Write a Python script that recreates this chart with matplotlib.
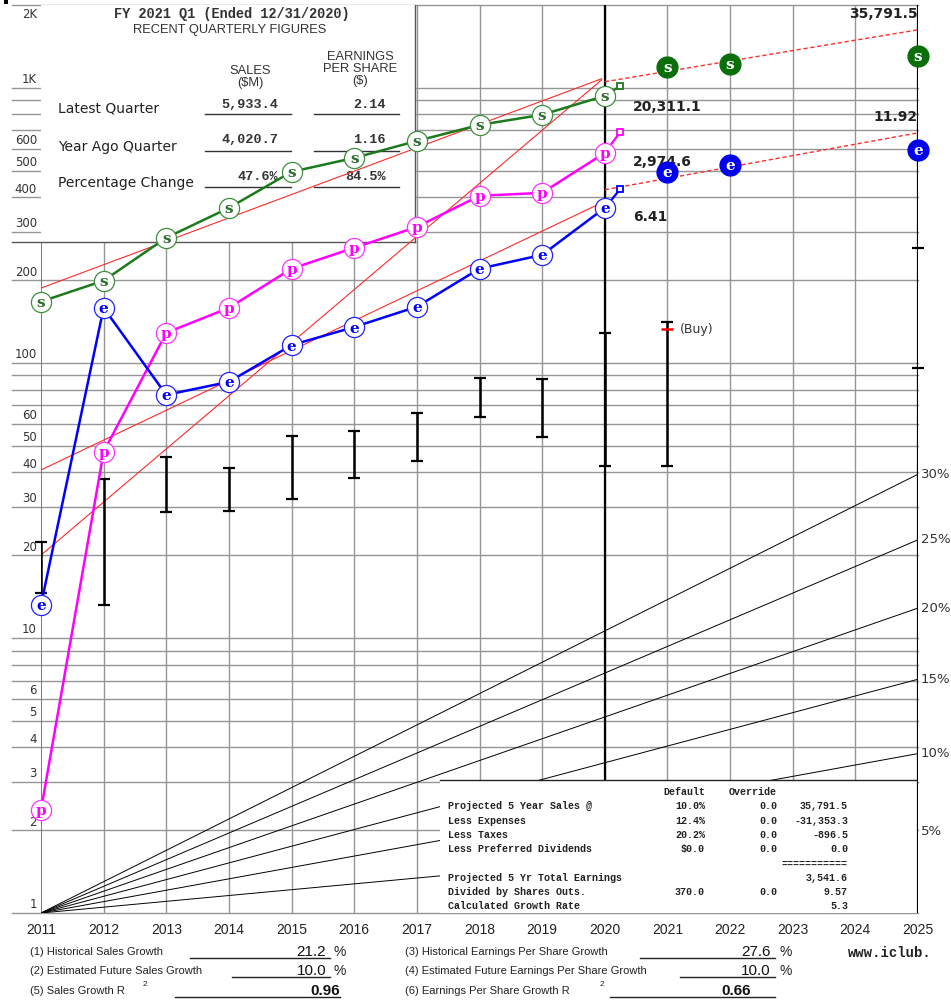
import numpy as np
import matplotlib
matplotlib.use('Agg')
import matplotlib.pyplot as plt
from matplotlib import font_manager
from matplotlib.patches import Rectangle
from matplotlib.transforms import Affine2D

# ---- data ----
years_hist = [2011, 2012, 2013, 2014, 2015, 2016, 2017, 2018, 2019, 2020]
sales_hist = [167, 199, 285, 366, 495, 556, 641, 733, 798, 935]
pretax_hist = [2.37, 47.5, 128.6, 158.5, 220, 262, 312, 405, 415, 580]
eps_hist = [13.2, 158.5, 76.5, 85.3, 116, 135, 160, 220, 247, 366]

latest_year = 2020.25
sales_latest = 1016
pretax_latest = 692
eps_latest = 429

proj_years = [2021, 2022, 2025]
sales_proj = [1192, 1222, 1307]
eps_proj = [495, 525, 596]

price_years = [2011, 2012, 2013, 2014, 2015, 2016, 2017, 2018, 2019, 2020, 2021]
price_high = [22.3, 37.9, 45.5, 41.5, 54.3, 56.6, 65.8, 88.2, 87.5, 128.6, 141]
price_low = [14.6, 13.2, 28.7, 29.0, 32.0, 38.2, 44.0, 63.6, 53.8, 42.2, 42.2]
price_buy = 133
proj_price_high = 262
proj_price_low = 95.9

trend_years = [2011, 2019.95]
sales_trend = [187, 1079]
pretax_trend = [20.0, 1069]
eps_trend = [40.8, 382]
proj_trend_years = [2020, 2025]
sales_proj_trend = [1052, 1625]
eps_proj_trend = [426, 686]

growth_rates = [5, 10, 15, 20, 25, 30]

ytick_vals = [1000, 600, 500, 400, 300, 200, 100, 60, 50, 40, 30, 20, 10, 6, 5, 4, 3, 2, 1]
ytick_labels = ['1K', '600', '500', '400', '300', '200', '100', '60', '50', '40',
                '30', '20', '10', '6', '5', '4', '3', '2', '1']
xtick_years = list(range(2011, 2026))

quarter_rows = ['Latest Quarter', 'Year Ago Quarter', 'Percentage Change']
quarter_sales = ['5,933.4', '4,020.7', '47.6%']
quarter_eps = ['2.14', '1.16', '84.5%']

proj_labels = ['Projected 5 Year Sales @', 'Less Expenses', 'Less Taxes',
               'Less Preferred Dividends', '', 'Projected 5 Yr Total Earnings',
               'Divided by Shares Outs.', 'Calculated Growth Rate']
proj_default = ['10.0%', '12.4%', '20.2%', '$0.0', '', '', '370.0', '']
proj_override = ['0.0', '0.0', '0.0', '0.0', '', '', '0.0', '']
proj_values = ['35,791.5', '-31,353.3', '-896.5', '0.0', '===========', '3,541.6', '9.57', '5.3']

# ---- geometry (pixels) ----
W, H = 951, 1000
X0, X1 = 41, 918
Y0, Y1 = 913, 5


def yr(p):
    return 2011 + (p - X0) * 14 / (X1 - X0)


def val(p):
    return 10 ** ((Y0 - p) * np.log10(2000) / (Y0 - Y1))


def ypx(v):
    return Y0 - np.log10(v) * (Y0 - Y1) / np.log10(2000)


names = {f.name for f in font_manager.fontManager.ttflist}
NARROW = 'Liberation Sans Narrow' if 'Liberation Sans Narrow' in names else 'Liberation Sans'
MONO = 'Liberation Mono'
SANS = 'DejaVu Sans'

fig = plt.figure(figsize=(W / 100, H / 100), dpi=100)
ax = fig.add_axes([X0 / W, 1 - Y0 / H, (X1 - X0) / W, (Y0 - Y1) / H])
ax.set_yscale('log')
ax.set_xlim(2011, 2025)
ax.set_ylim(1, 2000)
ax.axis('off')
px = Affine2D().scale(1 / W, -1 / H).translate(0, 1) + fig.transFigure

# grid
grid_vals = [k * 10 ** n for n in range(4) for k in range(1, 10) if k * 10 ** n <= 1000] + [2000]
for v in grid_vals:
    ax.plot([yr(12), 2025], [v, v], color='#959595', lw=1, zorder=1, clip_on=False)
for y in range(2012, 2025):
    ax.plot([y, y], [1, 2000], color='#959595', lw=1, zorder=1)
ax.plot([2011, 2011], [1, 2000], color='#707070', lw=1.3, zorder=1.2)

# growth rays
for r in growth_rates:
    ax.plot([2011, 2025], [1, (1 + r / 100) ** 14], color='black', lw=0.7, zorder=2)
    ax.text(921, ypx((1 + r / 100) ** 14), f'{r}%', transform=px, fontsize=9.5,
            family=SANS, color='#333', va='center', ha='left')

ax.plot([2020, 2020], [1, 2000], color='black', lw=1.6, zorder=2.4)

# white boxes
ax.add_patch(Rectangle((2011, val(242)), yr(415) - 2011, 2000 - val(242),
                       facecolor='white', edgecolor='none', zorder=2.5))
ax.plot([yr(415), yr(415)], [val(242), 2000], color='#555', lw=1, zorder=2.6)
ax.plot([yr(12), yr(415)], [val(242), val(242)], color='#555', lw=1, zorder=2.6, clip_on=False)
ax.add_patch(Rectangle((yr(440), 1), 2025 - yr(440), val(780) - 1,
                       facecolor='white', edgecolor='none', zorder=2.5))
ax.plot([yr(440), 2025], [val(780), val(780)], color='#222', lw=1, zorder=2.6)
ax.plot([2025, 2025], [1, 2000], color='black', lw=1.6, zorder=2.7)

# quarterly table text
ax.text(232, 14, 'FY 2021 Q1 (Ended 12/31/2020)', transform=px, family=MONO, fontsize=9.8,
        fontweight='bold', color='#333', ha='center', va='center', zorder=3)
ax.text(230, 30, 'RECENT QUARTERLY FIGURES', transform=px, family='Liberation Sans', fontsize=9.3,
        color='#333', ha='center', va='center', zorder=3)
ax.text(250, 77, 'SALES\n($M)', transform=px, family='Liberation Sans', fontsize=9.3,
        color='#333', ha='center', va='center', linespacing=1.0, zorder=3)
ax.text(360, 69, 'EARNINGS\nPER SHARE\n($)', transform=px, family='Liberation Sans', fontsize=9.3,
        color='#333', ha='center', va='center', linespacing=1.0, zorder=3)
row_y = [109, 147, 183]
val_y = [105, 140, 177]
line_y = [114, 151, 187]
for i in range(3):
    ax.text(58, row_y[i], quarter_rows[i], transform=px, family=SANS, fontsize=10,
            color='#222', ha='left', va='center', zorder=3)
    ax.text(278, val_y[i], quarter_sales[i], transform=px, family=MONO, fontsize=9.7,
            fontweight='bold', color='#333', ha='right', va='center', zorder=3)
    ax.text(386, val_y[i], quarter_eps[i], transform=px, family=MONO, fontsize=9.7,
            fontweight='bold', color='#333', ha='right', va='center', zorder=3)
    ax.plot([205, 291], [line_y[i], line_y[i]], transform=px, color='#333', lw=1, zorder=3)
    ax.plot([314, 399], [line_y[i], line_y[i]], transform=px, color='#333', lw=1, zorder=3)

# projection table text
ax.text(705, 792, 'Default', transform=px, family=MONO, fontsize=7.2, fontweight='bold',
        color='#222', ha='right', va='center', zorder=3)
ax.text(777, 792, 'Override', transform=px, family=MONO, fontsize=7.2, fontweight='bold',
        color='#222', ha='right', va='center', zorder=3)
proj_row_y = [806, 821, 835, 849, 864, 878, 892, 906]
for i, yy in enumerate(proj_row_y):
    kw = dict(transform=px, family=MONO, fontsize=7.2, fontweight='bold', color='#222',
              va='center', zorder=3)
    ax.text(448, yy, proj_labels[i], ha='left', **kw)
    ax.text(705, yy, proj_default[i], ha='right', **kw)
    ax.text(777, yy, proj_override[i], ha='right', **kw)
    ax.text(848, yy, proj_values[i], ha='right', **kw)

# trend lines
red = '#ff2a2a'
ax.plot(trend_years, sales_trend, color=red, lw=0.8, zorder=4)
ax.plot(trend_years, pretax_trend, color=red, lw=0.8, zorder=4)
ax.plot(trend_years, eps_trend, color=red, lw=0.8, zorder=4)
ax.plot(proj_trend_years, sales_proj_trend, color=red, lw=1, ls=(0, (3, 2)), zorder=4)
ax.plot(proj_trend_years, eps_proj_trend, color=red, lw=1, ls=(0, (3, 2)), zorder=4)

# price bars
ax.vlines(price_years, price_low, price_high, color='black', lw=1.8, zorder=4)
ax.plot(price_years, price_high, ls='none', marker='_', ms=9, mew=1.6, color='black', zorder=4,
        clip_on=False)
ax.plot(price_years, price_low, ls='none', marker='_', ms=9, mew=1.6, color='black', zorder=4,
        clip_on=False)
ax.plot([2025, 2025], [proj_price_low, proj_price_high], ls='none', marker='_', ms=9,
        mew=1.6, color='black', zorder=4, clip_on=False)
ax.plot([2021], [price_buy], ls='none', marker='_', ms=9, mew=1.8, color='red', zorder=4.1)
ax.text(680, 329, '(Buy)', transform=px, family=SANS, fontsize=9, color='#333',
        ha='left', va='center', zorder=4)

# value labels at right (under the markers)
lbl = dict(transform=px, family=SANS, fontsize=10, fontweight='bold', color='#222',
           va='center', zorder=5.8)
ax.text(918, 14, '35,791.5', ha='right', **lbl)
ax.text(633, 107, '20,311.1', ha='left', **lbl)
ax.text(918, 117, '11.92', ha='right', **lbl)
ax.text(633, 162, '2,974.6', ha='left', **lbl)
ax.text(633, 217, '6.41', ha='left', **lbl)


def series(xs, ys, last, letter, line_c, edge_c, text_c):
    ax.plot(xs, ys, color=line_c, lw=1.8, zorder=5)
    ax.plot([xs[-1], latest_year], [ys[-1], last], color=line_c, lw=1.6, zorder=5)
    ax.plot([latest_year], [last], ls='none', marker='s', ms=5, mfc='white', mec=line_c,
            mew=1.3, zorder=5.5)
    ax.plot(xs, ys, ls='none', marker='o', ms=14.5, mfc='white', mec=edge_c, mew=0.9, zorder=6,
            clip_on=False)
    for x, y in zip(xs, ys):
        ax.text(x, y, letter, ha='center', va='center_baseline', fontsize=11, fontweight='bold',
                family='DejaVu Serif', color=text_c, zorder=7)


def projected(xs, ys, letter, color):
    ax.plot(xs, ys, ls='none', marker='o', ms=15, mfc=color, mec=color, zorder=6, clip_on=False)
    for x, y in zip(xs, ys):
        ax.text(x, y, letter, ha='center', va='center_baseline', fontsize=11, fontweight='bold',
                family='DejaVu Serif', color='white', zorder=7)


series(years_hist, sales_hist, sales_latest, 's', '#1c7a1c', '#3d8f3d', '#2f6f2f')
series(years_hist, pretax_hist, pretax_latest, 'p', '#ff00ff', '#ff33ff', '#ff00ff')
series(years_hist, eps_hist, eps_latest, 'e', '#0000ff', '#2222ff', '#0000ff')
projected(proj_years, sales_proj, 's', '#0a6e0a')
projected(proj_years, eps_proj, 'e', '#0000ee')

# y labels
ax.text(37, 14, '2K', transform=px, family=SANS, fontsize=8.5, color='#333', ha='right', va='center')
for v, s in zip(ytick_vals, ytick_labels):
    ax.text(37, ypx(v) - 8, s, transform=px, family=SANS, fontsize=8.5, color='#333',
            ha='right', va='center')

# x labels
for y in xtick_years:
    ax.text(X0 + (y - 2011) * (X1 - X0) / 14, 930, str(y), transform=px, fontsize=10,
            family=NARROW, color='#222', ha='center', va='center')

# bottom summary
bot = dict(transform=px, family=NARROW, fontsize=8, color='#222', va='center')
ax.text(30, 952, '(1) Historical Sales Growth', ha='left', **bot)
ax.text(30, 971, '(2) Estimated Future Sales Growth', ha='left', **bot)
ax.text(30, 991, '(5) Sales Growth R', ha='left', **bot)
ax.text(143, 985, '2', ha='left', transform=px, family=NARROW, fontsize=6, color='#222', va='center')
ax.text(405, 952, '(3) Historical Earnings Per Share Growth', ha='left', **bot)
ax.text(405, 971, '(4) Estimated Future Earnings Per Share Growth', ha='left', **bot)
ax.text(405, 991, '(6) Earnings Per Share Growth R', ha='left', **bot)
ax.text(600, 985, '2', ha='left', transform=px, family=NARROW, fontsize=6, color='#222', va='center')

big = dict(transform=px, family=NARROW, fontsize=11, color='#111', va='bottom', ha='right')
pct = dict(transform=px, family=NARROW, fontsize=10, color='#222', va='bottom', ha='left')
ax.plot([190, 330], [958, 958], transform=px, color='#222', lw=1, clip_on=False)
ax.text(326, 959, '21.2', **big)
ax.text(333, 959, '%', **pct)
ax.plot([232, 330], [977, 977], transform=px, color='#222', lw=1, clip_on=False)
ax.text(326, 978, '10.0', **big)
ax.text(333, 978, '%', **pct)
ax.plot([175, 340], [997, 997], transform=px, color='#222', lw=1, clip_on=False)
ax.text(340, 998, '0.96', fontweight='bold', **big)
ax.plot([640, 775], [958, 958], transform=px, color='#222', lw=1, clip_on=False)
ax.text(771, 959, '27.6', **big)
ax.text(780, 959, '%', **pct)
ax.plot([680, 775], [977, 977], transform=px, color='#222', lw=1, clip_on=False)
ax.text(771, 978, '10.0', **big)
ax.text(780, 978, '%', **pct)
ax.plot([610, 775], [997, 997], transform=px, color='#222', lw=1, clip_on=False)
ax.text(751, 998, '0.66', fontweight='bold', **big)
ax.text(848, 953, 'www.iclub.', transform=px, family=MONO, fontsize=10, fontweight='bold',
        color='#222', ha='left', va='center')

ax.add_patch(Rectangle((4, 0), 4, 4, transform=px, facecolor='black', clip_on=False))

fig.savefig('out.png', dpi=100)
